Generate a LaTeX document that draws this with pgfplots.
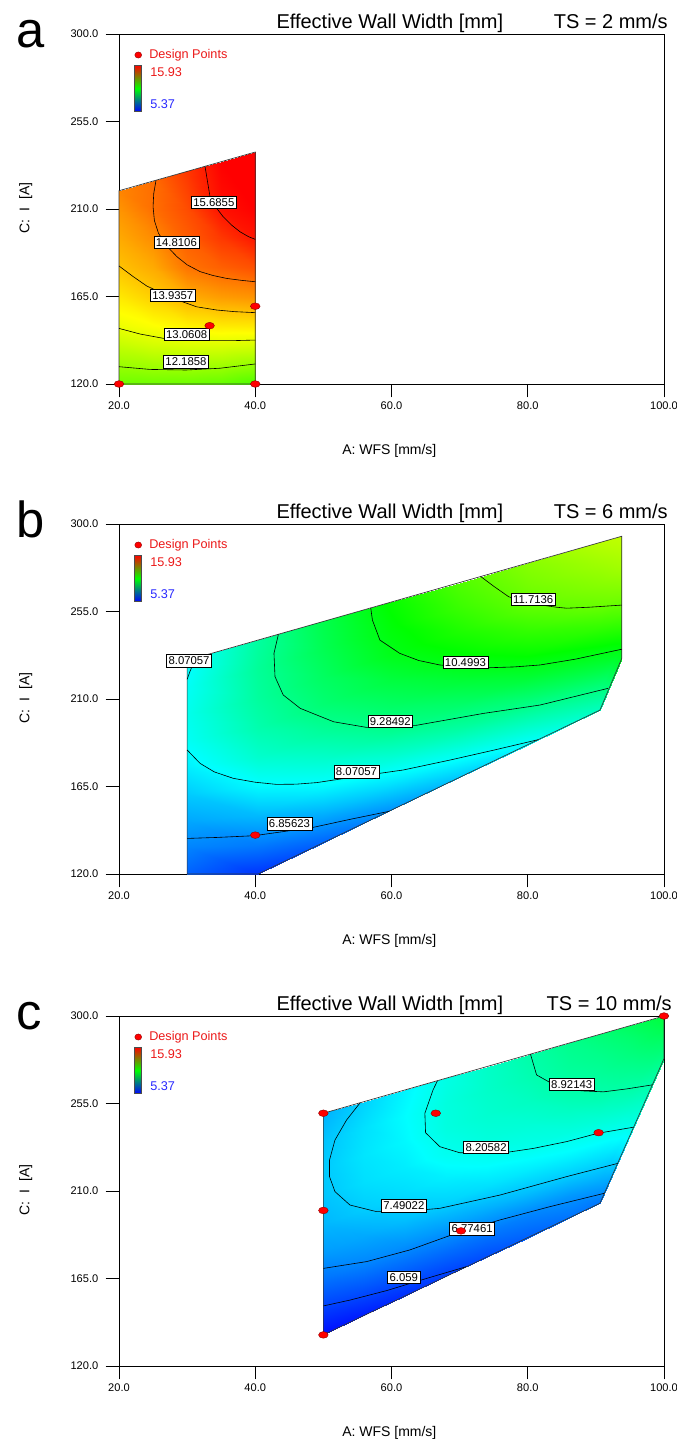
\documentclass[border=0pt]{standalone}
\usepackage{fontspec}
\setmainfont{Liberation Sans}
\usepackage{pgfplots}
\pgfplotsset{compat=1.18}
\definecolor{dxred}{RGB}{235,25,25}
\definecolor{dxblue}{RGB}{40,40,255}
\tikzset{
  clab/.style={fill=white, draw=black, line width=0.4pt, font=\fontsize{8.5}{9}\selectfont,
    inner xsep=1.5pt, inner ysep=1.5pt, text height=6.2pt, text depth=0.2pt},
}
\pgfplotsset{
  colormap={dx}{rgb255=(0,0,255) rgb255=(0,255,255) rgb255=(0,255,0) rgb255=(255,255,0) rgb255=(255,0,0)},
  dxpanel/.style={
    scale only axis, width=408.75pt, height=262.5pt, anchor=north west,
    xmin=20, xmax=100, ymin=120, ymax=300,
    xtick={20,40,60,80,100}, xticklabels={20.0,40.0,60.0,80.0,100.0},
    ytick={120,165,210,255,300}, yticklabels={120.0,165.0,210.0,255.0,300.0},
    tick pos=left, tick align=outside, major tick length=10pt,
    tick style={black, line width=0.6pt},
    axis line style={black, line width=0.6pt},
    ticklabel style={font=\fontsize{8.3}{9}\selectfont},
    yticklabel style={xshift=-2pt},
    xticklabel style={yshift=0.5pt},
    clip=false, colormap name=dx, point meta min=5.37, point meta max=15.93,
    legend style={at={(axis description cs:0.0286,0.94)}, anchor=west, draw=none, fill=none,
      inner sep=0pt, outer sep=0pt, column sep=5.5pt,
      font=\fontsize{9.5}{11}\selectfont, text=dxred, nodes={inner sep=0pt, text=dxred}},
    legend image code/.code={\fill[red, draw=red!55!black, line width=0.3pt] (0pt,0pt) ellipse (2.6pt and 2.3pt);},
  },
  cline/.style={black, line width=0.45pt, forget plot},
  bline/.style={black!80, line width=0.5pt, forget plot},
  dpts/.style={only marks, mark=*, mark size=2.5pt,
    mark options={xscale=1.45, fill=red, draw=red!55!black, line width=0.3pt}},
  dsurf/.style={surf, shader=interp, point meta=explicit, forget plot},
}
% #1 panel letter, #2 TS value, #3 right end of the TS text (axis description x)
\newcommand{\panelextras}[3]{%
  \node[anchor=base west, inner sep=0pt, font=\fontsize{38}{40}\selectfont] at (axis description cs:-0.189,0.961) {#1};
  \node[anchor=base, inner sep=0pt, font=\fontsize{15}{18}\selectfont] at (axis description cs:0.497,1.017) {Effective Wall Width [mm]};
  \node[anchor=base east, inner sep=0pt, font=\fontsize{15}{18}\selectfont] at (axis description cs:#3,1.017) {TS = #2 mm/s};
  \node[rotate=90, inner sep=0pt, font=\fontsize{10.5}{12}\selectfont] at (axis description cs:-0.171,0.503) {C:\ \ I\ \ [A]};
  \node[inner sep=0pt, font=\fontsize{10.5}{12}\selectfont] at (axis description cs:0.496,-0.191) {A: WFS [mm/s]};
  \shade[bottom color=blue, top color=red, middle color=green] (axis description cs:0.028,0.778) rectangle (axis description cs:0.0415,0.911);
  \draw[black!70, line width=0.5pt] (axis description cs:0.028,0.778) rectangle (axis description cs:0.0415,0.911);
  \node[anchor=west, inner sep=0pt, text=dxred, font=\fontsize{9.5}{11}\selectfont] at (axis description cs:0.0569,0.891) {15.93};
  \node[anchor=west, inner sep=0pt, text=dxblue, font=\fontsize{9.5}{11}\selectfont] at (axis description cs:0.0569,0.801) {5.37};
}
\begin{document}
\begin{tikzpicture}
\path[use as bounding box] (0pt,0pt) rectangle (507pt,-1084.5pt);
% ---------------- panel a ----------------
\begin{axis}[dxpanel, at={(89.25pt,-25.5pt)}]
\addplot[dsurf, mesh/rows=5, mesh/cols=9] table[meta=z] {
x y z
20 120 11.79
20 130 12.24
20 140 12.68
20 150 13.10
20 165 13.51
20 180 13.92
20 195 14.17
20 210 14.40
20 219.4 14.55
25 120 11.80
25 130 12.32
25 140 12.84
25 150 13.26
25 165 13.79
25 180 14.17
25 195 14.48
25 210 14.78
25 224.4 14.80
30 120 11.78
30 130 12.35
30 140 12.92
30 150 13.42
30 165 14.12
30 180 14.73
30 195 14.96
30 210 15.14
30 229.3 15.37
35 120 11.69
35 130 12.31
35 140 12.93
35 150 13.50
35 165 14.31
35 180 14.94
35 195 15.35
35 210 15.76
35 234.3 15.93
40 120 11.46
40 130 12.17
40 140 12.88
40 150 13.52
40 165 14.40
40 180 15.11
40 195 15.71
40 210 15.93
40 239.3 15.93
};
\addplot[bline] coordinates {(20,120) (20,219.4) (40,239.3) (40,120) (20,120)};
\addplot[cline] coordinates {(32.62,232.1) (33.0,224) (33.36,216.3) (34.2,211) (35.3,206.0) (36.5,201.8) (37.76,198.3) (39,195.8) (40,194.4)};
\addplot[cline] coordinates {(25.43,224.7) (25.1,218) (25.0,211.2) (25.2,204) (25.8,197.5) (27,191) (28.5,185.5) (30,181.3) (31.9,177.8) (33.8,175.8) (35.8,174.3) (38,173.3) (40,172.6)};
\addplot[cline] coordinates {(20,180.7) (22.1,175.2) (24.07,170.4) (26.5,166.5) (29,162.7) (31.4,159.7) (34.34,158.05) (37,157.2) (40,156.7)};
\addplot[cline] coordinates {(20,148.6) (23.1,145.7) (26.5,143.5) (30,142.6) (33.4,142.3) (36.7,142.3) (40,142.6)};
\addplot[cline] coordinates {(20,128.9) (24.55,127.5) (29.85,127.2) (34.8,128.1) (40,130.3)};
\node[clab] at (axis cs:33.92,213.5) {15.6855};
\node[clab] at (axis cs:28.42,192.8) {14.8106};
\node[clab] at (axis cs:27.9,165.7) {13.9357};
\node[clab] at (axis cs:29.93,145.6) {13.0608};
\node[clab] at (axis cs:29.83,131.4) {12.1858};
\addplot[dpts] coordinates {(20,120) (40,120) (40,160) (33.3,150)};
\addlegendentry{Design Points}
\panelextras{a}{2}{1.0073}
\end{axis}
% ---------------- panel b ----------------
\begin{axis}[dxpanel, at={(89.25pt,-393pt)}]
\addplot[dsurf, mesh/rows=8, mesh/cols=9] table[meta=z] {
x y z
30 120 6.37
30 133.7 6.74
30 147.5 7.10
30 161.2 7.47
30 175.0 7.84
30 188.7 8.11
30 202.4 8.20
30 216.2 8.10
30 229.9 7.95
40.4 120 5.90
40.4 135.0 6.64
40.4 150.1 7.30
40.4 165.1 7.97
40.4 180.2 8.52
40.4 195.2 8.85
40.4 210.2 9.02
40.4 225.3 9.08
40.4 240.3 9.00
50 136.1 6.40
50 150.3 7.15
50 164.6 7.94
50 178.8 8.51
50 193.0 9.04
50 207.2 9.47
50 221.5 9.65
50 235.7 9.80
50 249.9 9.87
60 152.9 6.90
60 166.3 7.70
60 179.7 8.44
60 193.0 9.13
60 206.4 9.60
60 219.8 10.00
60 233.2 10.40
60 246.5 10.57
60 259.9 10.72
70 169.7 7.45
70 182.2 8.21
70 194.8 8.95
70 207.3 9.57
70 219.8 10.10
70 232.3 10.59
70 244.9 10.95
70 257.4 11.25
70 269.9 11.47
80 186.5 7.98
80 198.2 8.71
80 209.9 9.44
80 221.5 10.12
80 233.2 10.70
80 244.9 11.16
80 256.6 11.61
80 268.2 11.85
80 279.9 12.05
90.6 204.3 8.66
90.6 215.1 9.30
90.6 225.9 10.00
90.6 236.6 10.62
90.6 247.4 11.20
90.6 258.2 11.74
90.6 269.0 12.05
90.6 279.7 12.30
90.6 290.5 12.55
93.8 230.9 10.33
93.8 238.8 10.66
93.8 246.6 11.07
93.8 254.5 11.50
93.8 262.3 11.85
93.8 270.2 12.10
93.8 278.0 12.33
93.8 285.9 12.50
93.8 293.7 12.65
};
\addplot[bline] coordinates {(30,120) (30,229.9) (93.8,293.7) (93.8,230.9) (90.6,204.3) (40.4,120) (30,120)};
\addplot[cline] coordinates {(30,138.3) (34.33,138.8) (39.86,139.7) (45.1,142.3) (48.52,144.0) (53.9,148.1) (59.6,152.2)};
\addplot[cline] coordinates {(30,183.8) (31.9,176.9) (34,172.5) (36.78,169.2) (40,167.2) (43.1,166.1) (46,166.2) (49.0,167.0) (54.88,170.1) (61.73,173.5) (68.58,178.6) (75,183.7) (81.54,189.1)};
\addplot[cline] coordinates {(30,220.1) (30.4,224) (30.67,226.3) (31,230.9)};
\addplot[cline] coordinates {(43.4,243.3) (42.75,233.5) (42.9,221.5) (44.1,212.1) (46.6,205.2) (51.5,198.3) (56.35,195.4) (63.7,196.5) (73.5,202.6) (81.8,206.9) (91.8,215.5)};
\addplot[cline] coordinates {(56.95,256.9) (57.2,250.6) (58.3,240.3) (61.2,233.5) (64,229.8) (67.1,227.5) (70.8,226.4) (74.45,226.1) (78,226.5) (81.8,227.5) (87,230.5) (93.8,235.6)};
\addplot[cline] coordinates {(73.1,273.0) (75,268) (77.2,262.6) (80,259.3) (84.25,257.2) (85.7,256.7) (89,257.2) (93.8,258.3)};
\node[clab] at (axis cs:45.02,145.9) {6.85623};
\node[clab] at (axis cs:54.86,172.5) {8.07057};
\node[clab] at (axis cs:59.82,198.6) {9.28492};
\node[clab] at (axis cs:70.86,228.9) {10.4993};
\node[clab] at (axis cs:30.28,229.8) {8.07057};
\node[clab] at (axis cs:80.8,261.3) {11.7136};
\addplot[dpts] coordinates {(40,140)};
\addlegendentry{Design Points}
\panelextras{b}{6}{1.0073}
\end{axis}
% ---------------- panel c ----------------
\begin{axis}[dxpanel, at={(89.25pt,-762pt)}]
\addplot[dsurf, mesh/rows=10, mesh/cols=9] table[meta=z] {
x y z
50 136.05 5.50
50 150.25 6.04
50 164.5 6.56
50 178.75 6.99
50 193 7.26
50 207.25 7.41
50 221.5 7.46
50 235.75 7.39
50 250 7.21
56 146 5.67
56 159.75 6.22
56 173.5 6.77
56 187.25 7.13
56 201 7.49
56 214.75 7.68
56 228.5 7.75
56 242.25 7.70
56 256 7.56
62 156.05 5.83
62 169.3 6.37
62 182.5 6.89
62 195.8 7.36
62 209.0 7.66
62 222.3 7.83
62 235.5 7.95
62 248.8 8.00
62 262 7.91
68 166.1 6.00
68 178.8 6.48
68 191.6 7.01
68 204.3 7.55
68 217.1 7.86
68 229.8 8.16
68 242.6 8.33
68 255.3 8.35
68 268 8.28
74 176.06 6.16
74 188.3 6.60
74 200.5 7.17
74 212.8 7.69
74 225.0 8.07
74 237.3 8.37
74 249.5 8.50
74 261.8 8.57
74 274 8.59
80 186.06 6.36
80 197.8 6.73
80 209.5 7.35
80 221.3 7.83
80 233.0 8.24
80 244.8 8.45
80 256.5 8.65
80 268.3 8.80
80 280 8.90
86 196.06 6.56
86 207.3 6.93
86 218.5 7.52
86 229.8 7.97
86 241.0 8.35
86 252.3 8.65
86 263.5 8.95
86 274.8 9.08
86 286 9.20
90.6 203.7 6.60
90.6 214.6 7.12
90.6 225.4 7.62
90.6 236.3 8.06
90.6 247.2 8.45
90.6 258.0 8.82
90.6 268.9 9.05
90.6 279.8 9.22
90.6 290.6 9.43
95.3 240.9 8.17
95.3 247.7 8.38
95.3 254.5 8.62
95.3 261.3 8.86
95.3 268.1 9.05
95.3 274.9 9.22
95.3 281.7 9.38
95.3 288.5 9.52
95.3 295.3 9.70
100 278.1 9.25
100 280.8 9.35
100 283.6 9.45
100 286.3 9.55
100 289.1 9.65
100 291.8 9.75
100 294.5 9.85
100 297.3 9.95
100 300 10.05
};
\addplot[bline] coordinates {(50,136.05) (50,250) (100,300) (100,278.1) (90.6,203.7) (50,136.05)};
\addplot[cline] coordinates {(50,150.9) (53.9,153.9) (59.3,158.8) (65.2,165.1) (71.0,171.1)};
\addplot[cline] coordinates {(50,170.2) (56.35,173.7) (62.7,179.7) (70.15,189.1) (75.9,195.1) (83.3,202.0) (91.2,208.8)};
\addplot[cline] coordinates {(55.4,255.4) (53.4,246.5) (51.7,236.2) (50.9,225.9) (50.9,217.4) (51.7,209.7) (53.9,202.8) (57.8,199.4) (61.7,199.4) (67.1,201.1) (75.9,207.9) (85.7,217.4) (93.2,224.2)};
\addplot[cline] coordinates {(66.75,266.7) (66.1,262.0) (64.9,250) (65.0,240.0) (67.1,232.8) (70.0,229.7) (76.0,229.4) (80.8,231.9) (85.7,235.4) (90.3,239.7) (95.5,242.8)};
\addplot[cline] coordinates {(80.4,280.4) (81.3,269.7) (84.8,262.8) (88,261.5) (91.1,261.0) (94.5,262.5) (98.3,264.6)};
\node[clab] at (axis cs:61.81,165.7) {6.059};
\node[clab] at (axis cs:71.84,190.6) {6.77461};
\node[clab] at (axis cs:61.81,202.5) {7.49022};
\node[clab] at (axis cs:73.89,232.4) {8.20582};
\node[clab] at (axis cs:86.45,264.9) {8.92143};
\addplot[dpts] coordinates {(50,136) (50,200) (50,250) (66.5,250) (90.4,240) (70.2,189.5) (100,300)};
\addlegendentry{Design Points}
\panelextras{c}{10}{1.0147}
\end{axis}
\end{tikzpicture}
\end{document}
